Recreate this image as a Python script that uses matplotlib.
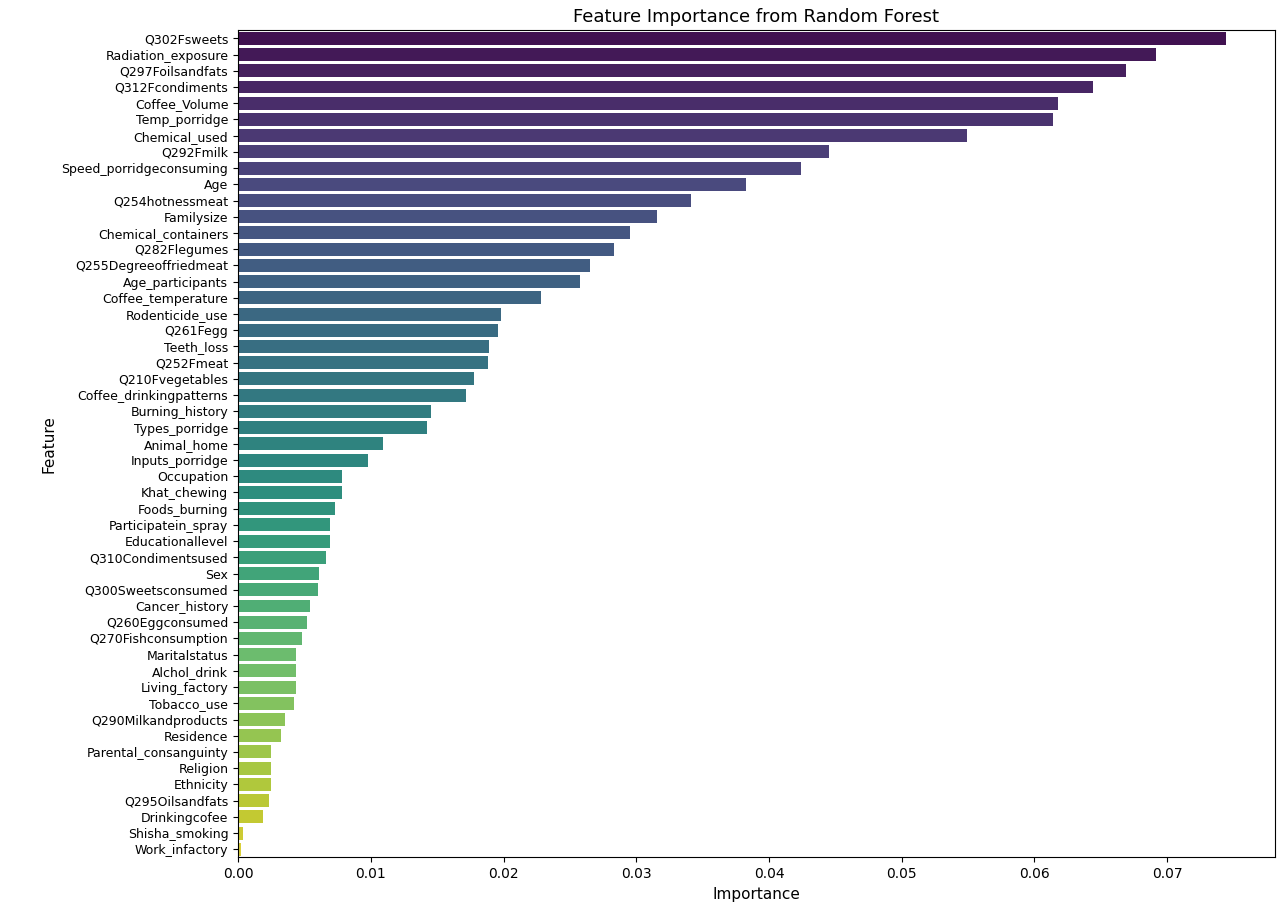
import matplotlib
matplotlib.use("Agg")
import matplotlib.pyplot as plt
import seaborn as sns
import pandas as pd

features = ["Q302Fsweets","Radiation_exposure","Q297Foilsandfats","Q312Fcondiments","Coffee_Volume",
 "Temp_porridge","Chemical_used","Q292Fmilk","Speed_porridgeconsuming","Age","Q254hotnessmeat",
 "Familysize","Chemical_containers","Q282Flegumes","Q255Degreeoffriedmeat","Age_participants",
 "Coffee_temperature","Rodenticide_use","Q261Fegg","Teeth_loss","Q252Fmeat","Q210Fvegetables",
 "Coffee_drinkingpatterns","Burning_history","Types_porridge","Animal_home","Inputs_porridge",
 "Occupation","Khat_chewing","Foods_burning","Participatein_spray","Educationallevel",
 "Q310Condimentsused","Sex","Q300Sweetsconsumed","Cancer_history","Q260Eggconsumed",
 "Q270Fishconsumption","Maritalstatus","Alchol_drink","Living_factory","Tobacco_use",
 "Q290Milkandproducts","Residence","Parental_consanguinty","Religion","Ethnicity",
 "Q295Oilsandfats","Drinkingcofee","Shisha_smoking","Work_infactory"]
importance = [0.0744,0.0692,0.0669,0.0644,0.0618,0.0614,0.0549,0.0445,0.0424,0.0383,0.0341,
 0.0316,0.0295,0.0283,0.0265,0.0258,0.0228,0.0198,0.0196,0.0189,0.0188,0.0178,0.0172,0.0145,
 0.0142,0.0109,0.0098,0.0078,0.0078,0.0073,0.0069,0.0069,0.0066,0.0061,0.0060,0.0054,0.0052,
 0.0048,0.0044,0.0044,0.0044,0.0042,0.0035,0.0032,0.0025,0.0025,0.0025,0.0023,0.0019,0.0004,0.0002]

df = pd.DataFrame({"Feature": features, "Importance": importance})
fig = plt.figure(figsize=(12.8, 9.16), dpi=100)
ax = fig.add_axes([0.186, 0.064, 0.810, 0.903])
sns.barplot(data=df, x="Importance", y="Feature", hue="Feature", palette="viridis", legend=False, ax=ax)
ax.set_title("Feature Importance from Random Forest", fontsize=13)
ax.set_xlabel("Importance", fontsize=11)
ax.set_ylabel("Feature", fontsize=11)
ax.tick_params(axis="y", labelsize=9)
ax.tick_params(axis="x", labelsize=10)
fig.savefig("out.png", dpi=100)
